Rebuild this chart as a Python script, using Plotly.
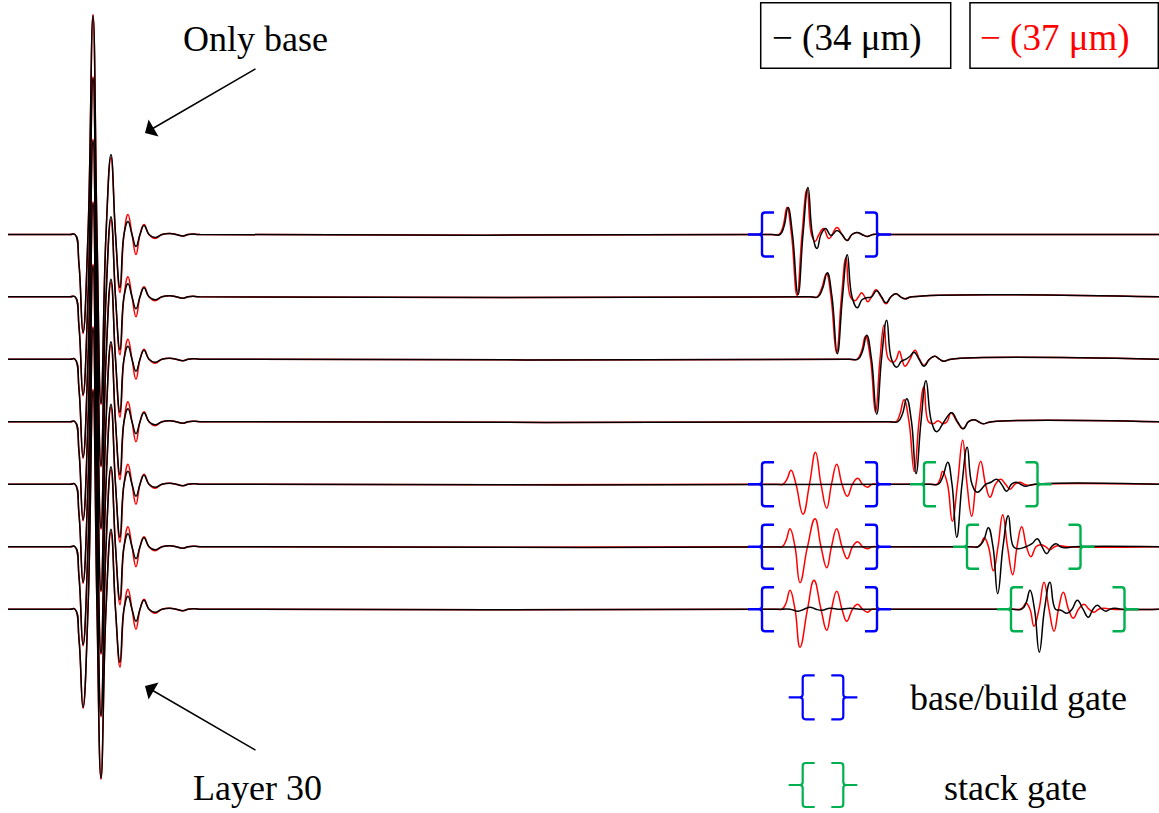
import plotly.graph_objects as go

# ---------------- data ----------------
W, H = 1159, 813
ROW_BASE = [234.5, 296.8, 359.2, 421.7, 484.2, 546.7, 609.2]   # baseline of each trace (offset, px units)
T_START, T_END = 8, 1159

# first (front-wall) echo, shared by all traces
LEFT_T = [70, 75, 79, 83, 88, 93, 97, 101, 106, 111, 115.5, 120, 124, 128, 132, 136, 140, 144, 149, 155,
          162, 170, 176, 183, 188, 193, 200]
LEFT_BLACK = [0, 0, -30, -98, 0, 219, 0, -169, 0, 80, 0, -53, 0, 13, 0, -12, 0, 9, 0, -3,
              0, 1, 0, -1.5, 0, 0.5, 0]
LEFT_RED = [0, 0, -30, -99, 0, 220, 0, -170, 0, 77, 0, -58, 0, 20, 0, -20, 0, 10, 0, -4,
            0, 1, 0, -1.5, 0, 0.5, 0]

# later echoes (34 um = black)
RIGHT_BLACK_T = [
    [772, 780, 784, 788, 792.5, 798, 803, 808, 812.5, 817, 821, 825.5, 831, 837, 842, 847, 852, 857, 862, 867, 873, 882],
    [810, 818, 822.5, 827.3, 832, 837.3, 842.5, 847.3, 852, 857.3, 862, 866.5, 871.5, 876.7, 881.5, 886, 891, 896, 900.5, 905, 912],
    [850, 858, 862.5, 866.7, 871.5, 876.7, 881.5, 886.7, 891.5, 896.7, 901.5, 906, 910, 914, 919, 924, 929.5, 935, 939.5, 944, 951],
    [890, 898, 902.5, 906.7, 911.5, 916, 921, 926, 931.5, 936.7, 944, 951.7, 957.5, 963.3, 968.5, 974, 978.5, 983, 992],
    [930, 938.3, 943, 947.7, 952, 956.7, 962, 967.2, 972, 977.3, 986, 991, 996.7, 1001.5, 1006.7, 1011.5, 1016, 1020.5, 1025, 1035],
    [970, 978, 983.5, 988.3, 993, 997.7, 1003, 1008.3, 1013.5, 1018.3, 1026, 1032, 1037.3, 1042, 1046.7, 1051.5, 1056, 1060.5, 1065, 1075],
    [1013, 1021.7, 1026, 1030, 1034.5, 1039.3, 1044.5, 1050, 1055.5, 1061, 1067, 1072, 1077.3, 1083, 1088.3, 1093, 1097.3, 1102, 1106, 1110, 1114, 1122],
]
RIGHT_BLACK_A = [
    [0, 0, 8, 27, 0, -60, 0, 47, 0, -14, 0, 6, -1, 4, 0, -6, 0, 2, 0, -2, 0, 0],
    [0, 0, 8, 24, 0, -57, 0, 42, 0, -11, -3, -1, 0, 6, 0, -6, 0, 3, 0, -2, 0],
    [0, 0, 8, 24, 0, -55, 0, 39, 0, -8, -2, 0, 3, 7, 0, -7, 0, 3, 0, -2, 0],
    [0, 0, 8, 23, 0, -52, 0, 41, 0, -10, 0, 9, 0, -7, 0, 2, 0, -2, 0],
    [0, 0, 8, 22, 0, -53, 0, 37, 0, -8, 0, 2, 5, 0, -7, 0, 2, 0, -2, 0],
    [0, 0, 6, 19, 0, -47, 0, 31, 0, -2, 0, 3, 8, 0, -7, 0, 3, 0, -1, 0],
    [0, 0, 6, 19, 0, -43, 0, 27, 0, -1, -4, 0, 9, 0, -8, 0, 4, 0, -2, 0, 1, 0],
]
# small residual inside base gate of layer 30 (black)
BLACK_BASEGATE_T = [780, 790, 798, 804, 810, 816, 822, 830, 840, 850, 860, 870]
BLACK_BASEGATE_A = [0, 0, -2, 0, 2, 0, -1, 1, 0, 1, 0, 0]

# later echoes (37 um = red)
RIGHT_RED_T = [
    [771, 779, 783, 787, 791.5, 797, 802, 807, 811.5, 815, 819, 823.5, 829, 837, 842, 847, 852, 857, 862, 867, 873, 882],
    [809, 817, 821.5, 826.5, 831, 836.5, 841.5, 846, 850.5, 855, 858.5, 861.7, 864.7, 867.7, 871.5, 876, 881, 886, 891, 896, 900.5, 905, 912],
    [849, 857, 861.5, 865.5, 870.5, 875.5, 880, 884, 888.5, 893.3, 896.3, 899.3, 902, 905, 910, 915, 919.5, 924, 929.5, 935, 939.5, 944, 951],
    [888, 896, 900, 904, 909, 914.3, 919, 924, 928.5, 933.3, 938, 943, 947, 951, 957, 963, 968.5, 974, 978.5, 983, 992],
    [930, 937, 940, 942.7, 947.5, 952.3, 957.5, 962.7, 967, 971.7, 976, 980.7, 985.5, 990, 995.5, 1000.7, 1005.5, 1010, 1015, 1020, 1024, 1028, 1037],
    [970, 978, 981, 984.3, 988.5, 993.3, 998, 1002.7, 1007.5, 1012.7, 1017, 1021.7, 1026.5, 1031, 1036, 1041, 1045.5, 1050, 1054.5, 1059, 1068],
    [1012, 1020, 1023, 1026, 1030, 1034, 1039, 1044, 1049, 1054, 1058.5, 1063.3, 1068.5, 1073.3, 1078.5, 1084, 1089, 1094, 1098.5, 1103, 1112],
]
RIGHT_RED_A = [
    [0, 0, 8, 27, 0, -61, 0, 45, 0, -7, 0, 6, -4, 7, 0, -6, 0, 2, 0, -2, 0, 0],
    [0, 0, 8, 23, 0, -56, 0, 39, 0, -4, 0, 4, 0, -5, 0, 7, 0, -7, 0, 3, 0, -2, 0],
    [0, 0, 8, 23, 0, -53, 0, 34, 0, -3, 0, 8, 0, -7, 0, 9, 0, -6, 0, 3, 0, -2, 0],
    [0, 0, 8, 22, 0, -50, 0, 35, 0, -2, 1, -2, 0, 9, 0, -7, 0, 2, 0, -2, 0],
    [0, 0, 5, 13, 0, -37, 0, 44, 0, -32, 0, 23, 0, -13, 0, 5, 0, -5, 0, 2, 0, -1, 0],
    [0, 0, 3, 9, 0, -24, 0, 32, 0, -28, 0, 20, 0, -10, 0, 2, 0, -3, 0, 1, 0],
    [0, 0, 2, 6, 0, -17, 0, 27, 0, -22, 0, 17, 0, -9, 0, 5, 0, -3, 0, 1, 0],
]
# base/build echo inside base gate (red only, rows 5-7)
RED_BASEGATE_T = [
    [776, 783, 787, 791, 796, 803, 809.5, 815.5, 821, 826.7, 831.5, 836.7, 842, 847.3, 852.5, 857.7, 862.5, 867.7, 872, 879],
    [776, 782, 786, 790, 795, 800, 807.5, 815, 821, 826.7, 831.5, 836.7, 842, 847.3, 852.5, 857.7, 862.5, 867.7, 872, 879],
    [776, 782, 786, 790, 795, 800, 807.5, 814, 821, 826.7, 831.5, 836.7, 842, 846.7, 852.5, 857.7, 862.5, 867.7, 872, 879],
]
RED_BASEGATE_A = [
    [0, 0, 5, 14, 0, -30, 0, 32, 0, -24, 0, 20, 0, -12, 0, 6, 0, -3, 0, 0],
    [0, 0, 6, 18, 0, -36, 0, 28, 0, -21, 0, 18, 0, -12, 0, 5, 0, -2, 0, 0],
    [0, 0, 6, 19, 0, -38, 0, 29, 0, -21, 0, 18, 0, -12, 0, 5, 0, -3, 0, 0],
]
RED_BASEGATE_ROWS = [4, 5, 6]

# gates
BASE_GATE_ROWS = [0, 4, 5, 6]
BASE_GATE = (762, 877)
STACK_GATE_ROWS = [4, 5, 6]
STACK_GATE_LEFT = [924, 967, 1011]
STACK_GATE_WIDTH = 113.5

BLUE = "#0000FF"
GREEN = "#00B050"
RED = "#FF0000"
FONT = "Liberation Serif"
LW = 1.5


def build(points):
    pts = sorted(points, key=lambda p: p[0])
    return [p[0] for p in pts], [p[1] for p in pts]


fig = go.Figure()

red_traces, black_traces = [], []
for i, base in enumerate(ROW_BASE):
    # red
    pts = [(T_START, 0)] + list(zip(LEFT_T, LEFT_RED))
    if i in RED_BASEGATE_ROWS:
        k = RED_BASEGATE_ROWS.index(i)
        pts += list(zip(RED_BASEGATE_T[k], RED_BASEGATE_A[k]))
    pts += list(zip(RIGHT_RED_T[i], RIGHT_RED_A[i])) + [(T_END, 0)]
    x, a = build(pts)
    red_traces.append(go.Scatter(x=x, y=[v - base for v in a], mode="lines",
                                 line=dict(color=RED, width=LW, shape="spline", smoothing=1.3),
                                 hoverinfo="skip"))
    # black
    pts = [(T_START, 0)] + list(zip(LEFT_T, LEFT_BLACK))
    if i == 6:
        pts += list(zip(BLACK_BASEGATE_T, BLACK_BASEGATE_A))
    pts += list(zip(RIGHT_BLACK_T[i], RIGHT_BLACK_A[i])) + [(T_END, 0)]
    x, a = build(pts)
    black_traces.append(go.Scatter(x=x, y=[v - base for v in a], mode="lines",
                                   line=dict(color="black", width=LW, shape="spline", smoothing=1.3),
                                   hoverinfo="skip"))

for tr in red_traces + black_traces:
    fig.add_trace(tr)


def bracket_paths(xl, xr, yc, half=22, serif=12, tick=14, r=3):
    top, bot = yc + half, yc - half
    left = (f"M {xl+serif},{top} L {xl+r},{top} Q {xl},{top} {xl},{top-r} "
            f"L {xl},{yc+r} Q {xl},{yc} {xl-r},{yc} L {xl-tick},{yc} "
            f"M {xl-r},{yc} Q {xl},{yc} {xl},{yc-r} "
            f"L {xl},{bot+r} Q {xl},{bot} {xl+r},{bot} L {xl+serif},{bot}")
    right = (f"M {xr-serif},{top} L {xr-r},{top} Q {xr},{top} {xr},{top-r} "
             f"L {xr},{yc+r} Q {xr},{yc} {xr+r},{yc} L {xr+tick},{yc} "
             f"M {xr+r},{yc} Q {xr},{yc} {xr},{yc-r} "
             f"L {xr},{bot+r} Q {xr},{bot} {xr-r},{bot} L {xr-serif},{bot}")
    return [left, right]


shapes = []
for i in BASE_GATE_ROWS:
    for p in bracket_paths(BASE_GATE[0], BASE_GATE[1], -ROW_BASE[i]):
        shapes.append(dict(type="path", path=p, xref="x", yref="y", line=dict(color=BLUE, width=2.4)))
for k, i in enumerate(STACK_GATE_ROWS):
    xl = STACK_GATE_LEFT[k]
    for p in bracket_paths(xl, xl + STACK_GATE_WIDTH, -ROW_BASE[i]):
        shapes.append(dict(type="path", path=p, xref="x", yref="y", line=dict(color=GREEN, width=2.4)))
# legend gate icons
for color, yc in [(BLUE, -697.3), (GREEN, -785)]:
    for p in bracket_paths(802.7, 843.3, yc):
        shapes.append(dict(type="path", path=p, xref="x", yref="y", line=dict(color=color, width=2.2)))
# legend boxes
shapes.append(dict(type="rect", xref="x", yref="y", x0=760.7, x1=950.7, y0=-2.7, y1=-68.3,
                   line=dict(color="black", width=1.5)))
shapes.append(dict(type="rect", xref="x", yref="y", x0=970, x1=1158.3, y0=-2.7, y1=-68.3,
                   line=dict(color="black", width=1.5)))

annotations = [
    dict(x=255, y=-39, text="Only base", showarrow=False, font=dict(family=FONT, size=36, color="black")),
    dict(x=257, y=-788, text="Layer 30", showarrow=False, font=dict(family=FONT, size=36, color="black")),
    dict(x=1018, y=-698, text="base/build gate", showarrow=False, font=dict(family=FONT, size=36, color="black")),
    dict(x=1015, y=-788, text="stack gate", showarrow=False, font=dict(family=FONT, size=36, color="black")),
    dict(x=770, y=-38, xanchor="left", text="\u2212 (34 \u03bcm)", showarrow=False,
         font=dict(family=FONT, size=37, color="black")),
    dict(x=978, y=-38, xanchor="left", text="\u2212 (37 \u03bcm)", showarrow=False,
         font=dict(family=FONT, size=37, color=RED)),
    dict(x=145, y=-133, ax=257, ay=-68, axref="x", ayref="y", xref="x", yref="y", text="",
         showarrow=True, arrowhead=1, arrowsize=2.2, arrowwidth=1.5, arrowcolor="black"),
    dict(x=145, y=-686, ax=257, ay=-751, axref="x", ayref="y", xref="x", yref="y", text="",
         showarrow=True, arrowhead=1, arrowsize=2.2, arrowwidth=1.5, arrowcolor="black"),
]
for a in annotations:
    a.setdefault("xref", "x")
    a.setdefault("yref", "y")

fig.update_layout(
    width=W, height=H,
    margin=dict(l=0, r=0, t=0, b=0),
    paper_bgcolor="white", plot_bgcolor="white",
    showlegend=False,
    xaxis=dict(range=[0, W], visible=False, fixedrange=True),
    yaxis=dict(range=[-H, 0], visible=False, fixedrange=True),
    shapes=shapes,
    annotations=annotations,
)

fig.write_html("out.html", config={"displayModeBar": False},
               post_script="document.body.style.margin='0';document.body.style.overflow='hidden';")
